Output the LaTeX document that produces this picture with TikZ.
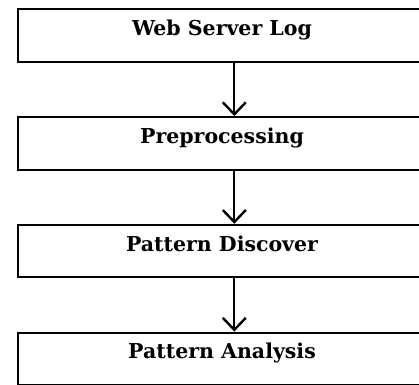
\documentclass[tikz,border=0pt]{standalone}
\usepackage{fontspec}
\setmainfont{DejaVu Serif}
\usetikzlibrary{arrows.meta}
\tikzset{
  stage/.style={draw=black, line width=2pt, rectangle, minimum width=408pt, minimum height=52.5pt,
    inner sep=0pt, font=\fontsize{20.5}{24}\selectfont\bfseries, text height=15pt, text depth=15pt},
  flow/.style={line width=2pt, -{Straight Barb[length=12pt, width=23pt, line width=2.4pt]}}
}
\begin{document}
\begin{tikzpicture}[x=1pt, y=-1pt]
\useasboundingbox (0,0) rectangle (419,384);
\clip (0,0) rectangle (419,384);
\node[stage] (log) at (222,35.5) {Web Server Log};
\node[stage] (pre) at (222,143.3) {Preprocessing};
\node[stage] (dis) at (222,251) {Pattern Discover};
\node[stage] (ana) at (222,358.8) {Pattern Analysis};
\draw[flow] (log.south -| 234.3,0) -- (pre.north -| 234.3,0);
\draw[flow] (pre.south -| 234.3,0) -- (dis.north -| 234.3,0);
\draw[flow] (dis.south -| 234.3,0) -- (ana.north -| 234.3,0);
\end{tikzpicture}
\end{document}
